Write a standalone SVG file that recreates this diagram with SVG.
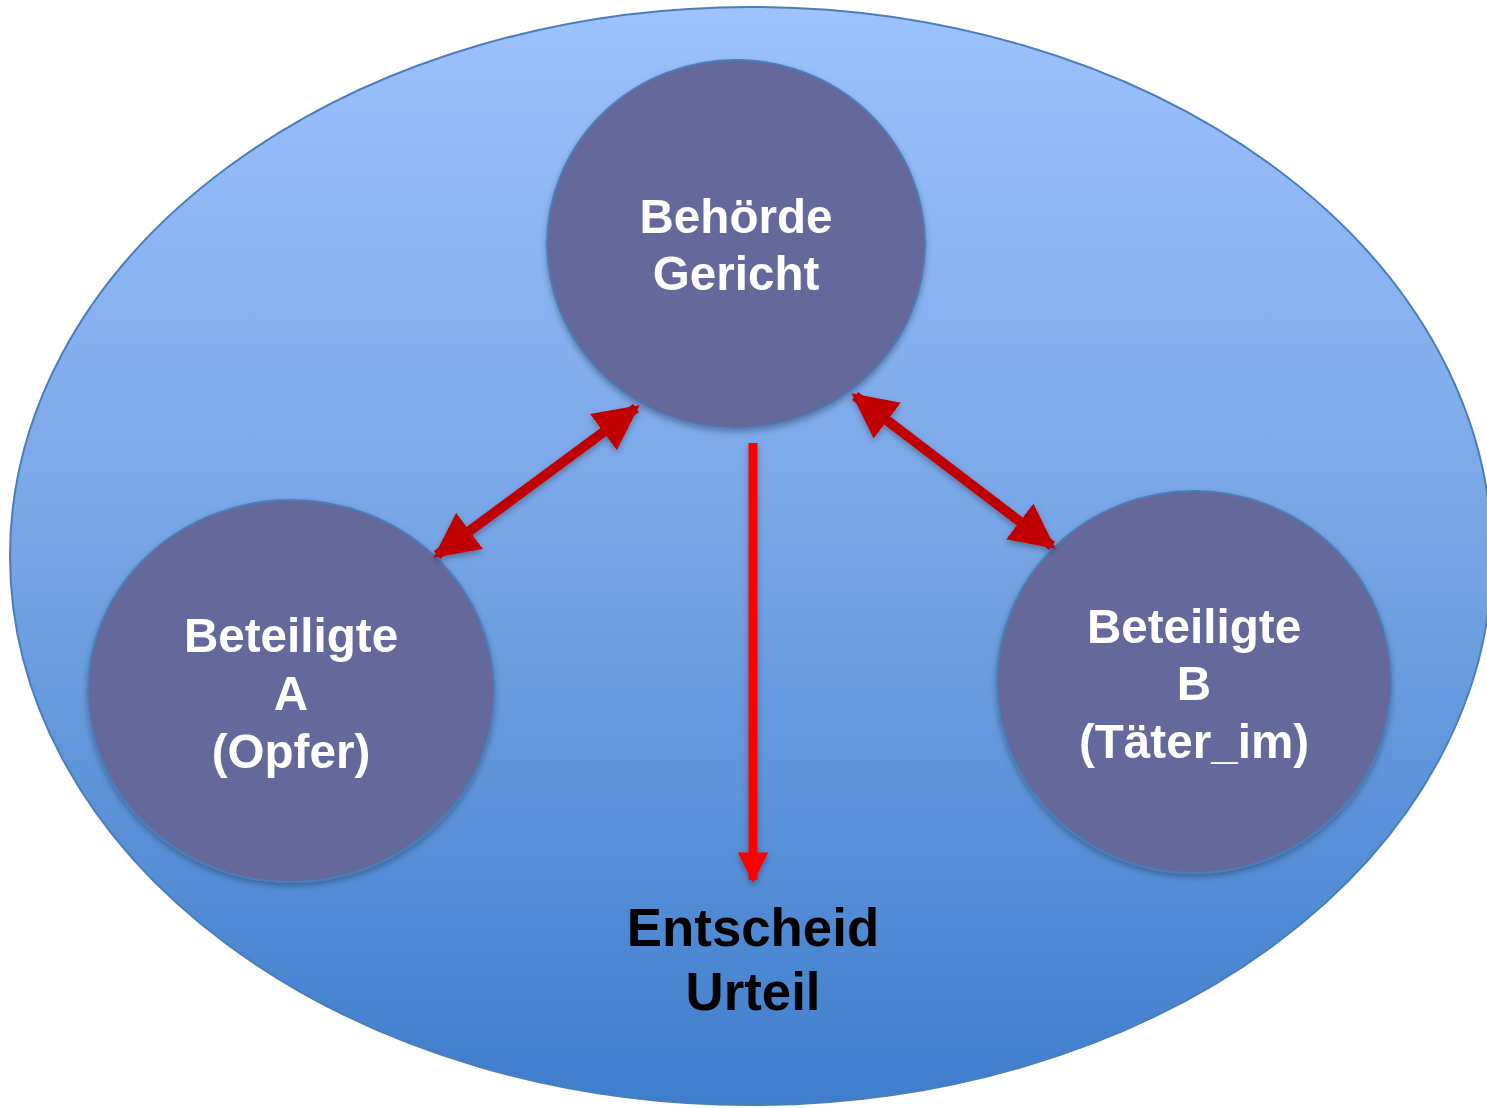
<svg xmlns="http://www.w3.org/2000/svg" width="1487" height="1108" viewBox="0 0 1487 1108">
<defs>
<linearGradient id="bg" x1="0" y1="0" x2="0" y2="1">
<stop offset="0" stop-color="#9DC2FD"/>
<stop offset="0.5" stop-color="#76A4E6"/>
<stop offset="1" stop-color="#3E7DCB"/>
</linearGradient>
<filter id="sh" x="-10%" y="-10%" width="120%" height="125%">
<feDropShadow dx="0" dy="3" stdDeviation="3" flood-color="#000" flood-opacity="0.3"/>
</filter>
<marker id="ahd" viewBox="0 0 10 10" refX="9" refY="5" markerWidth="4.5" markerHeight="4.5" orient="auto-start-reverse" markerUnits="strokeWidth">
<path d="M0,0 L10,5 L0,10 z" fill="#C00000"/>
</marker>
<marker id="ahr" viewBox="0 0 10 10" refX="9" refY="5" markerWidth="3.4" markerHeight="3.4" orient="auto" markerUnits="strokeWidth">
<path d="M0,0 L10,5 L0,10 z" fill="#FF0000"/>
</marker>
<style>
.node{fill:#65679A;stroke:#4A7EBB;stroke-width:2}
.lbl{font-family:"Liberation Sans",Arial,sans-serif;font-weight:bold;font-size:47.6px;fill:#fff;text-anchor:middle}
.out{font-family:"Liberation Sans",Arial,sans-serif;font-weight:bold;font-size:52.8px;fill:#000;text-anchor:middle}
</style>
</defs>
<rect width="1487" height="1108" fill="#fff"/>
<g id="frame">
<ellipse cx="751" cy="556" rx="741" ry="549" fill="url(#bg)" stroke="#4A7EBB" stroke-width="2"/>
</g>
<g id="node-behoerde" filter="url(#sh)">
<ellipse class="node" cx="736" cy="244" rx="189" ry="184"/>
<text class="lbl" x="736" y="233">Behörde</text>
<text class="lbl" x="736" y="290">Gericht</text>
</g>
<g id="node-a" filter="url(#sh)">
<ellipse class="node" cx="291" cy="691" rx="203" ry="191"/>
<text class="lbl" x="291" y="652">Beteiligte</text>
<text class="lbl" x="291" y="710">A</text>
<text class="lbl" x="291" y="768">(Opfer)</text>
</g>
<g id="node-b" filter="url(#sh)">
<ellipse class="node" cx="1194" cy="682" rx="197" ry="191"/>
<text class="lbl" x="1194" y="643">Beteiligte</text>
<text class="lbl" x="1194" y="700">B</text>
<text class="lbl" x="1194" y="758">(Täter_im)</text>
</g>
<g id="node-entscheid">
<text class="out" x="753" y="946">Entscheid</text>
<text class="out" x="753" y="1010">Urteil</text>
</g>
<g id="connectors" filter="url(#sh)">
<line x1="437" y1="555" x2="636" y2="408" stroke="#C00000" stroke-width="10" marker-start="url(#ahd)" marker-end="url(#ahd)"/>
<line x1="855" y1="396" x2="1052" y2="546" stroke="#C00000" stroke-width="10" marker-start="url(#ahd)" marker-end="url(#ahd)"/>
<line x1="753" y1="443" x2="753" y2="880" stroke="#FF0000" stroke-width="9" marker-end="url(#ahr)"/>
</g>
</svg>
